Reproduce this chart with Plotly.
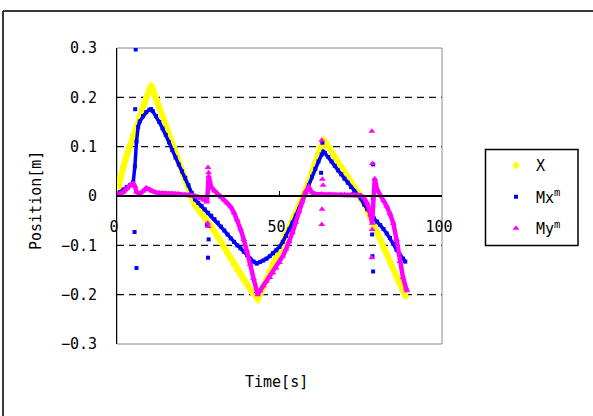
import plotly.graph_objects as go

# ---- measured series -------------------------------------------------------
t_x = [0, 1, 2, 3, 4, 5, 6, 7, 8, 9, 10, 10.5, 11, 12, 13, 14, 15, 16, 17, 18,
       19, 20, 21, 22, 23, 24, 25, 26, 27, 28, 29, 30, 31, 32, 33, 34, 35, 36,
       37, 38, 39, 40, 41, 42, 43, 43.3, 44, 45, 46, 47, 48, 49, 50, 51, 52,
       53, 54, 55, 56, 57, 58, 59, 60, 61, 62, 63, 63.5, 64, 65, 66, 67, 68,
       69, 70, 71, 72, 73, 74, 75, 76, 77, 78, 79, 80, 81, 82, 83, 84, 85, 86,
       87, 88, 88.7]
x_pos = [0.005, 0.036, 0.060, 0.082, 0.103, 0.123, 0.142, 0.161, 0.180, 0.198,
         0.215, 0.224, 0.216, 0.197, 0.179, 0.160, 0.142, 0.124, 0.106, 0.088,
         0.069, 0.051, 0.033, 0.015, -0.003, -0.019, -0.027, -0.035, -0.043,
         -0.052, -0.062, -0.072, -0.083, -0.094, -0.105, -0.117, -0.128,
         -0.139, -0.150, -0.160, -0.170, -0.180, -0.189, -0.198, -0.206,
         -0.209, -0.199, -0.184, -0.169, -0.154, -0.139, -0.124, -0.110,
         -0.095, -0.081, -0.066, -0.052, -0.037, -0.023, -0.008, 0.009, 0.028,
         0.047, 0.066, 0.085, 0.104, 0.114, 0.110, 0.100, 0.090, 0.080, 0.070,
         0.060, 0.050, 0.040, 0.030, 0.020, 0.010, 0.000, -0.015, -0.029,
         -0.044, -0.059, -0.074, -0.089, -0.104, -0.118, -0.133, -0.148,
         -0.162, -0.177, -0.191, -0.203]

t_mx = [0, 1, 2, 3, 4, 5, 5.5, 6, 6.5, 7, 8, 9, 10, 10.5, 11, 12, 13, 14, 15,
        16, 17, 18, 19, 20, 21, 22, 23, 24, 25, 26, 27, 28, 29, 30, 31, 32,
        33, 34, 35, 36, 37, 38, 39, 40, 41, 42, 43, 44, 45, 46, 47, 48, 49,
        50, 51, 52, 53, 54, 55, 56, 57, 58, 59, 60, 61, 62, 63, 63.5, 64, 65,
        66, 67, 68, 69, 70, 71, 72, 73, 74, 75, 76, 77, 78, 79, 80, 81, 82,
        83, 84, 85, 86, 87, 88, 88.7]
mx_pos = [0.004, 0.008, 0.013, 0.018, 0.022, 0.028, 0.060, 0.110, 0.140,
          0.151, 0.162, 0.170, 0.175, 0.176, 0.172, 0.162, 0.150, 0.137,
          0.124, 0.109, 0.093, 0.078, 0.064, 0.050, 0.037, 0.022, 0.006,
          -0.007, -0.014, -0.020, -0.027, -0.034, -0.040, -0.047, -0.054,
          -0.062, -0.070, -0.078, -0.086, -0.093, -0.100, -0.106, -0.113,
          -0.120, -0.127, -0.133, -0.137, -0.134, -0.131, -0.127, -0.122,
          -0.116, -0.110, -0.103, -0.093, -0.081, -0.068, -0.054, -0.040,
          -0.026, -0.011, 0.006, 0.022, 0.039, 0.055, 0.070, 0.084, 0.090,
          0.087, 0.079, 0.070, 0.061, 0.052, 0.044, 0.035, 0.027, 0.018,
          0.010, 0.002, -0.005, -0.017, -0.027, -0.038, -0.045, -0.052,
          -0.059, -0.067, -0.076, -0.085, -0.097, -0.109, -0.119, -0.127,
          -0.133]

t_my = [0, 1, 2, 3, 4, 5, 5.5, 6, 7, 8, 9, 10, 11, 12, 13, 14, 15, 16, 17, 18,
        19, 20, 21, 22, 23, 24, 25, 26, 27, 27.7, 28.2, 29, 30, 31, 32, 33,
        34, 35, 36, 37, 38, 39, 40, 41, 42, 43, 43.3, 44, 45, 46, 47, 48, 49,
        50, 51, 52, 53, 54, 55, 56, 57, 58, 59, 60, 61, 62, 63, 64, 65, 66,
        67, 68, 69, 70, 71, 72, 73, 74, 75, 76, 77, 78, 78.5, 79.3, 80, 81,
        82, 83, 84, 85, 86, 87, 88, 89, 89.2]
my_pos = [0.002, 0.004, 0.008, 0.015, 0.022, 0.025, 0.020, 0.008, 0.004,
          0.010, 0.016, 0.013, 0.009, 0.007, 0.006, 0.006, 0.005, 0.005,
          0.005, 0.004, 0.004, 0.003, 0.003, 0.002, 0.001, 0.000, -0.002,
          -0.005, -0.008, -0.012, 0.040, 0.018, 0.010, 0.004, -0.002, -0.008,
          -0.014, -0.022, -0.034, -0.048, -0.067, -0.088, -0.111, -0.139,
          -0.167, -0.194, -0.200, -0.192, -0.182, -0.173, -0.165, -0.156,
          -0.146, -0.135, -0.122, -0.108, -0.092, -0.074, -0.053, -0.031,
          -0.010, 0.008, 0.018, 0.007, 0.004, 0.003, 0.004, 0.003, 0.003,
          0.003, 0.003, 0.002, 0.003, 0.003, 0.002, 0.003, 0.003, 0.002,
          0.001, -0.004, -0.015, -0.038, -0.055, 0.035, 0.014, 0.002, -0.009,
          -0.021, -0.036, -0.055, -0.088, -0.133, -0.165, -0.188, -0.192]

# isolated tracking glitches (stray samples)
t_mx_stray = [5.4, 5.6, 5.75, 6.0, 27.7, 28.0, 28.2, 28.0, 62.8, 63.2, 78.7,
              78.8, 78.5, 78.6, 78.8]
mx_stray = [-0.073, 0.176, 0.297, -0.146, -0.058, 0.025, -0.088, -0.125,
            0.047, 0.108, -0.005, 0.064, -0.078, -0.122, -0.153]
t_my_stray = [28.0, 28.2, 28.4, 27.9, 28.1, 63.0, 63.2, 63.4, 63.1, 63.0,
              78.4, 78.6, 78.5, 78.4]
my_stray = [0.058, 0.047, 0.032, -0.055, -0.062, 0.113, 0.034, 0.022, -0.027,
            -0.058, 0.131, 0.066, -0.068, -0.125]

series_names = ["X", "Mx<sup>m</sup>", "My<sup>m</sup>"]
y_ticks = [0.3, 0.2, 0.1, 0, -0.1, -0.2, -0.3]
y_ticktext = ["0.3", "0.2", "0.1", "0", "\u22120.1", "\u22120.2", "\u22120.3"]
x_ticks = [0, 50, 100]
x_ticktext = ["0", "50", "100"]
grid_levels = [0.2, 0.1, -0.1, -0.2]
x_range = [0, 100]
y_range = [-0.3, 0.3]

# ---- layout geometry --------------------------------------------------------
W, H = 593, 416
L, R, T, B = 117, 151, 48, 72
PW, PH = W - L - R, H - T - B
FONT = "DejaVu Sans Mono"


def px(xp):
    return (xp - L) / PW


def py(yp):
    return (H - B - yp) / PH


styles = [
    dict(color="#FFFF00", symbol="diamond", size=6, lw=6),
    dict(color="#0000FF", symbol="square", size=4, lw=3.5),
    dict(color="#FF00FF", symbol="triangle-up", size=6, lw=4.5),
]
main = [(t_x, x_pos), (t_mx, mx_pos), (t_my, my_pos)]
stray = [None, (t_mx_stray, mx_stray), (t_my_stray, my_stray)]

fig = go.Figure()
for i, ((tt, vv), st, name) in enumerate(zip(main, styles, series_names)):
    # dense sample trail
    fig.add_trace(go.Scatter(x=tt, y=vv, mode="lines", showlegend=False,
                             hoverinfo="skip",
                             line=dict(color=st["color"], width=st["lw"])))
    fig.add_trace(go.Scatter(x=tt, y=vv, mode="markers", name=name,
                             legendgroup=f"g{i}",
                             marker=dict(color=st["color"], symbol=st["symbol"],
                                         size=st["size"], line=dict(width=0))))
    if stray[i] is not None:
        fig.add_trace(go.Scatter(x=stray[i][0], y=stray[i][1], mode="markers",
                                 showlegend=False, legendgroup=f"g{i}",
                                 marker=dict(color=st["color"],
                                             symbol=st["symbol"],
                                             size=st["size"],
                                             line=dict(width=0))))

shapes = []
# dashed horizontal gridlines
for g in grid_levels:
    shapes.append(dict(type="line", xref="paper", yref="y", x0=0, x1=1,
                       y0=g, y1=g, layer="below",
                       line=dict(color="#111111", width=1.3, dash="7px,5px")))
# plot-area frame
shapes.append(dict(type="rect", xref="paper", yref="paper", x0=0, x1=1,
                   y0=0, y1=1, layer="below",
                   line=dict(color="#8a8a8a", width=1)))
# chart-area frame (top and left edges)
shapes.append(dict(type="line", xref="paper", yref="paper",
                   x0=px(3), x1=px(3), y0=py(11), y1=py(430),
                   line=dict(color="#3a3a3a", width=2)))
shapes.append(dict(type="line", xref="paper", yref="paper",
                   x0=px(3), x1=px(610), y0=py(11), y1=py(11),
                   line=dict(color="#3a3a3a", width=2)))
# legend frame
shapes.append(dict(type="rect", xref="paper", yref="paper",
                   x0=px(485.5), x1=px(578), y0=py(149.5), y1=py(245.5),
                   line=dict(color="black", width=1.5)))

annotations = [
    dict(text="Time[s]", xref="paper", yref="paper", x=px(276), y=py(382),
         showarrow=False, xanchor="center", yanchor="middle",
         font=dict(family=FONT, size=15, color="black")),
    dict(text="Position[m]", xref="paper", yref="paper", x=px(36), y=py(201),
         showarrow=False, xanchor="center", yanchor="middle", textangle=-90,
         font=dict(family=FONT, size=15, color="black")),
]

fig.update_layout(
    width=W, height=H,
    margin=dict(l=L, r=R, t=T, b=B, pad=0),
    paper_bgcolor="white", plot_bgcolor="white",
    font=dict(family=FONT, size=15, color="black"),
    showlegend=True,
    legend=dict(x=px(496), y=py(149), xanchor="left", yanchor="top",
                bgcolor="rgba(0,0,0,0)", borderwidth=0,
                tracegroupgap=9, traceorder="grouped",
                font=dict(family=FONT, size=15, color="black")),
    xaxis=dict(range=x_range, anchor="free",
               position=(0 - y_range[0]) / (y_range[1] - y_range[0]),
               showline=True, linecolor="black", linewidth=1.5,
               ticks="inside", ticklen=4, tickcolor="black", tickwidth=1,
               tickvals=x_ticks, ticktext=x_ticktext,
               ticklabelstandoff=17, ticklabelshift=-3,
               showgrid=False, zeroline=False),
    yaxis=dict(range=y_range, showline=True, linecolor="black", linewidth=1,
               ticks="inside", ticklen=5, tickcolor="black", tickwidth=1,
               tickvals=y_ticks, ticktext=y_ticktext,
               ticklabelstandoff=16,
               showgrid=False, zeroline=False),
    shapes=shapes,
    annotations=annotations,
)

fig.write_html("out.html")
